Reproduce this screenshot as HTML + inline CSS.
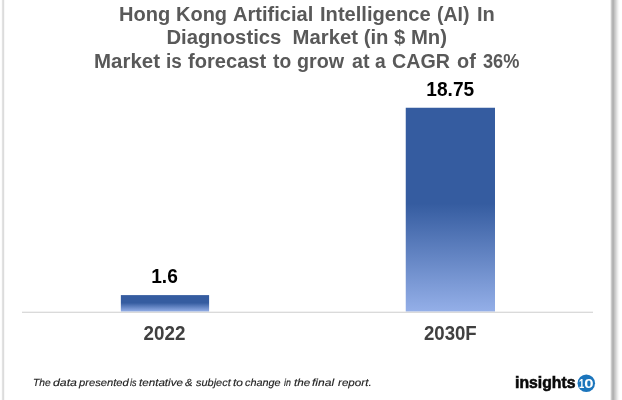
<!DOCTYPE html>
<html><head><meta charset="utf-8">
<style>
html,body{margin:0;padding:0;background:#fff;}
body{width:622px;height:400px;position:relative;overflow:hidden;font-family:"Liberation Sans",sans-serif;}
.t{position:absolute;left:0;width:614px;text-align:center;font-weight:bold;color:#595959;font-size:20.3px;line-height:24px;white-space:pre;}
.tw{position:absolute;font-weight:bold;color:#595959;font-size:20.3px;line-height:24px;white-space:nowrap;word-spacing:-5.6399px;}
.tw span{display:inline-block;transform-origin:0 50%;word-spacing:0;text-align:left;}
.lb{position:absolute;font-weight:bold;text-align:center;white-space:nowrap;line-height:20px;}
.lb span{display:inline-block;}
#note span{display:inline-block;transform-origin:0 50%;white-space:nowrap;word-spacing:0;}
#note{position:absolute;left:33.00px;top:377px;white-space:nowrap;word-spacing:-2.8617px;font-size:10.3px;line-height:14px;font-style:italic;color:#1e1e1e;-webkit-text-stroke:0.15px #1e1e1e;text-rendering:geometricPrecision;}
</style></head><body>
<div id="lborder" style="position:absolute;left:1px;top:0;width:4px;height:400px;background:linear-gradient(to right,#fbfbfb 0,#fbfbfb 1px,#e2e2e2 1px,#e2e2e2 2px,#dcdcdc 2px,#dcdcdc 3px,#f8f8f8 3px);"></div>
<div id="rshadow" style="position:absolute;left:609px;top:0;width:13px;height:400px;background:linear-gradient(to right,#fff 0px,#fff 0.8px,#f0f0f0 1.5px,#cbcbcb 2.5px,#b5b5b5 3.5px,#b2b2b2 4.5px,#c2c2c2 5.5px,#cfcfcf 6.5px,#dddddd 7.5px,#ebebeb 8.5px,#f6f6f6 9.5px,#fdfdfd 10.5px,#fff 11.5px);"></div>
<div class="tw" id="t1" style="top:2px;left:118.93px;"><span style="width:57.41px;transform:scaleX(0.9894);">Hong</span> <span style="width:56.57px;transform:scaleX(0.9853);">Kong</span> <span style="width:86.73px;transform:scaleX(0.9893);">Artificial</span> <span style="width:117.46px;transform:scaleX(0.9918);">Intelligence</span> <span style="width:39.54px;transform:scaleX(0.9591);">(AI)</span> <span style="width:130.00px;transform:scaleX(0.9889);">In</span></div>
<div class="t" id="t2" style="top:25px;left:-0.3px;">Diagnostics  Market (in $ Mn)</div>
<div class="tw" id="t3" style="top:49px;left:93.91px;"><span style="width:72.20px;transform:scaleX(1.0088);">Market</span> <span style="width:21.82px;transform:scaleX(0.9362);">is</span> <span style="width:84.74px;transform:scaleX(0.9918);">forecast</span> <span style="width:24.08px;transform:scaleX(0.9487);">to</span> <span style="width:54.95px;transform:scaleX(0.9723);">grow</span> <span style="width:23.21px;transform:scaleX(0.9691);">at</span> <span style="width:17.53px;transform:scaleX(0.9480);">a</span> <span style="width:64.72px;transform:scaleX(0.9697);">CAGR</span> <span style="width:25.99px;transform:scaleX(0.9799);">of</span> <span style="width:130.00px;transform:scaleX(0.8960);">36%</span></div>
<svg id="chart" style="position:absolute;left:0;top:0;" width="622" height="400" viewBox="0 0 622 400"><defs><linearGradient id="bg" x1="0" y1="0" x2="0" y2="1"><stop offset="0" stop-color="#355ca0"/><stop offset="0.47" stop-color="#355ca0"/><stop offset="1" stop-color="#94afe8"/></linearGradient></defs><rect x="120.85" y="295.1" width="88.25" height="16.5" fill="url(#bg)"/><rect x="405.75" y="107.75" width="89.25" height="203.8" fill="url(#bg)"/><rect x="22" y="311.7" width="571" height="1.15" fill="#d4d4d4"/></svg>
<div class="lb" id="v1" style="left:120.4px;width:88px;top:265.5px;font-size:19.4px;color:#000;"><span style="transform:scaleX(0.985)">1.6</span></div>
<div class="lb" id="v2" style="left:405.7px;width:89px;top:78.5px;font-size:19.4px;color:#000;"><span style="transform:scaleX(0.985)">18.75</span></div>
<div class="lb" id="c1" style="left:120.4px;width:88px;top:324px;font-size:19.3px;color:#404040;"><span style="transform:scaleX(0.975)">2022</span></div>
<div class="lb" id="c2" style="left:405.5px;width:89px;top:324px;font-size:19.3px;color:#404040;"><span style="transform:scaleX(0.965)">2030F</span></div>
<div id="note"><span style="width:20.15px;transform:scaleX(0.995);">The</span> <span style="width:25.62px;transform:scaleX(1.195);">data</span> <span style="width:51.62px;transform:scaleX(1.088);">presented</span> <span style="width:8.45px;transform:scaleX(0.884);">is</span> <span style="width:46.53px;transform:scaleX(1.129);">tentative</span> <span style="width:10.74px;transform:scaleX(1.094);">&amp;</span> <span style="width:36.72px;transform:scaleX(1.064);">subject</span> <span style="width:12.49px;transform:scaleX(1.161);">to</span> <span style="width:38.59px;transform:scaleX(1.052);">change</span> <span style="width:10.14px;transform:scaleX(0.854);">in</span> <span style="width:18.03px;transform:scaleX(1.136);">the</span> <span style="width:25.80px;transform:scaleX(1.168);">final</span> <span style="width:40.00px;transform:scaleX(1.131);">report.</span></div>
<div id="logo" style="position:absolute;left:514.6px;top:372px;font-size:15.6px;line-height:20px;font-weight:bold;color:#0a0a0a;-webkit-text-stroke:0.55px #0a0a0a;white-space:nowrap;transform-origin:0 0;transform:translateY(0.6px) scaleX(1.012);">insights</div>
<svg id="ten" style="position:absolute;left:576px;top:373px;" width="22" height="22" viewBox="0 0 22 22"><circle cx="10.3" cy="10.2" r="8.75" fill="#1b75bc"/><text x="2.9" y="15.2" font-family="Liberation Sans, sans-serif" font-weight="bold" font-size="13.5" fill="#fff"><tspan textLength="5.25" lengthAdjust="spacingAndGlyphs">1</tspan><tspan textLength="9.3" lengthAdjust="spacingAndGlyphs">0</tspan></text></svg>
</body></html>
